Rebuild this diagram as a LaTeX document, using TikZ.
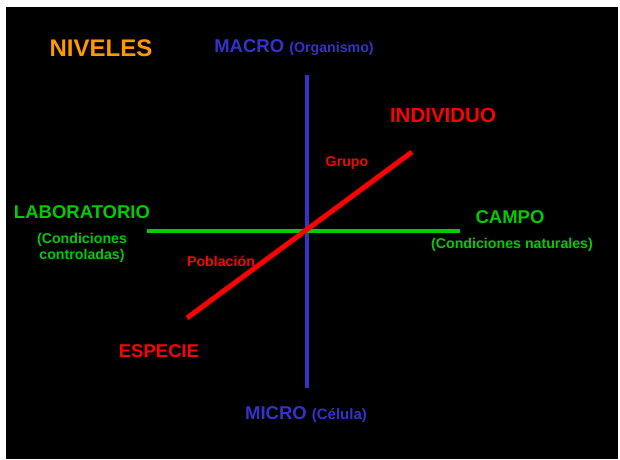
\documentclass[tikz,border=0pt]{standalone}
\usepackage{fontspec}
\setmainfont{Liberation Sans}
\definecolor{naranja}{HTML}{FF9900}
\definecolor{azul}{HTML}{3333CC}
\definecolor{verde}{HTML}{00CC00}
\definecolor{rojo}{HTML}{FF0000}
\tikzset{
  grande/.style={font=\bfseries\fontsize{18.5}{21}\selectfont,inner sep=0pt},
  chico/.style={font=\bfseries\fontsize{14.2}{16.5}\selectfont,inner sep=0pt,align=center}
}
\begin{document}
\begin{tikzpicture}[x=1pt,y=-1pt]
    \useasboundingbox (0,0) rectangle (620,459);
    \fill[black] (6,7) rectangle (618,459);
    % ejes
    \coordinate (arriba) at (307,75);
    \coordinate (abajo) at (307,388);
    \coordinate (izq) at (147,231);
    \coordinate (der) at (460,231);
    \coordinate (esp) at (187,318);
    \coordinate (ind) at (412,152);
    \draw[azul,line width=3.8pt] (arriba) -- (abajo);
    \draw[verde,line width=4.3pt] (izq) -- (der);
    \draw[rojo,line width=5pt] (esp) -- (ind);
    % textos
    \node[naranja,inner sep=0pt,font=\bfseries\fontsize{24}{26}\selectfont]
      (niveles) at (101,48) {NIVELES};
    \node[azul,grande] (macro) at (294,48)
      {MACRO {\fontsize{14.2}{16}\selectfont(Organismo)}};
    \node[azul,grande] (micro) at (306,415)
      {MICRO {\fontsize{15}{16}\selectfont(Célula)}};
    \node[rojo,grande,font=\bfseries\fontsize{20.5}{22}\selectfont]
      (individuo) at (443,115) {INDIVIDUO};
    \node[rojo,chico] (grupo) at (347,163) {Grupo};
    \node[rojo,chico] (poblacion) at (221,261) {Población};
    \node[rojo,grande] (especie) at (159,351) {ESPECIE};
    \node[verde,grande] (lab) at (82,212) {LABORATORIO};
    \node[verde,chico] (labc) at (82,248) {(Condiciones\\controladas)};
    \node[verde,grande] (campo) at (510,217) {CAMPO};
    \node[verde,chico] (campoc) at (512,245) {(Condiciones naturales)};
  \end{tikzpicture}
\end{document}
